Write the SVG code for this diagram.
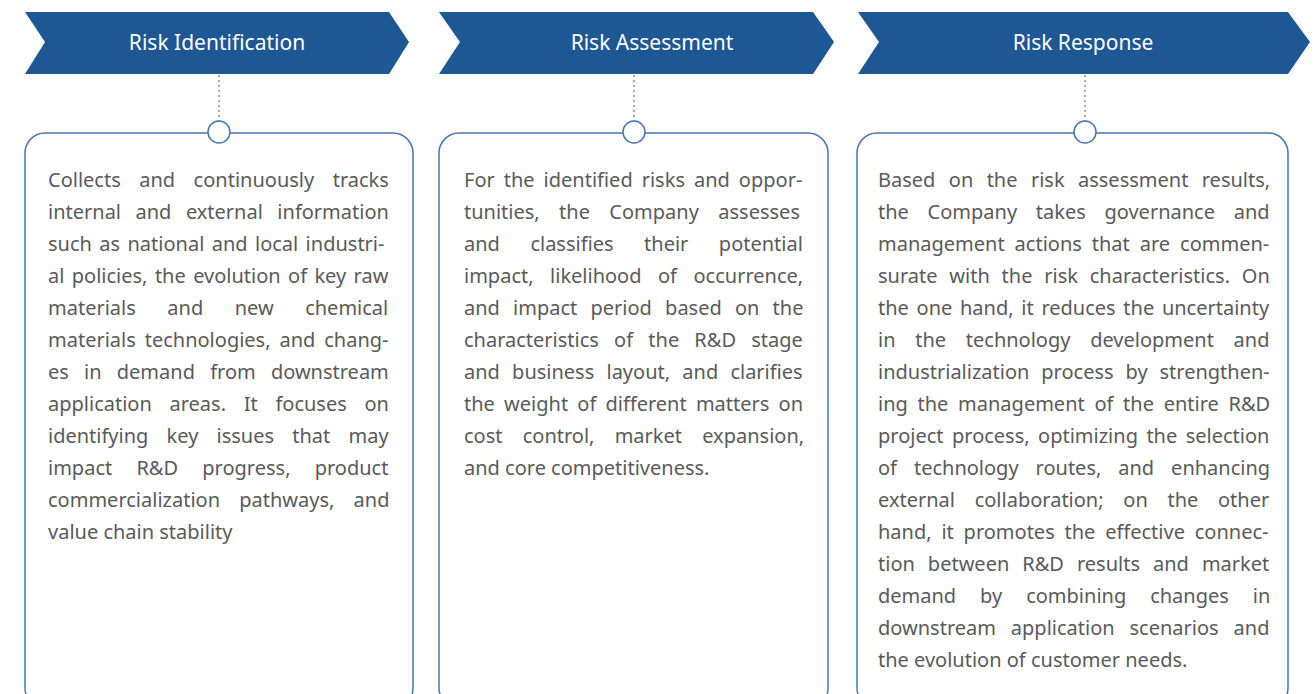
<svg xmlns="http://www.w3.org/2000/svg" width="1315" height="694" viewBox="0 0 1315 694">
<style>
.banner{fill:#1d5794}
.title{font-family:"Noto Sans",sans-serif;font-size:21px;fill:#ffffff;text-anchor:middle}
.box{fill:#ffffff;stroke:#4a76ae;stroke-width:1.5}
.dot{fill:#ffffff;stroke:#4a76ae;stroke-width:1.5}
.conn{stroke:#6e92c2;stroke-width:1.5;stroke-dasharray:2 3;fill:none}
.body{font-family:"Noto Sans",sans-serif;font-size:20px;fill:#5a5a5a}
</style>
<rect width="1315" height="694" fill="#ffffff"/>
<g id="connectors">
<line class="conn" x1="219" y1="75" x2="219" y2="121"/>
<line class="conn" x1="634" y1="75" x2="634" y2="121"/>
<line class="conn" x1="1085" y1="75" x2="1085" y2="121"/>
</g>
<g id="node-risk-identification">
<polygon class="banner" points="25,12 389,12 409,42 389,74 25,74 45,42"/>
<text class="title" x="217" y="50">Risk Identification</text>
<rect class="box" x="25" y="133" width="388" height="575" rx="20"/>
<circle class="dot" cx="219" cy="132" r="11"/>
<text class="body">
<tspan x="48" y="187" word-spacing="13.3">Collects and continuously tracks</tspan>
<tspan x="48" y="219" word-spacing="9.3">internal and external information</tspan>
<tspan x="48" y="251" word-spacing="2.2">such as national and local industri-</tspan>
<tspan x="48" y="283" word-spacing="2.2">al policies, the evolution of key raw</tspan>
<tspan x="48" y="315" word-spacing="26.3">materials and new chemical</tspan>
<tspan x="48" y="347" word-spacing="3.7">materials technologies, and chang-</tspan>
<tspan x="48" y="379" word-spacing="10">es in demand from downstream</tspan>
<tspan x="48" y="411" word-spacing="12.5">application areas. It focuses on</tspan>
<tspan x="48" y="443" word-spacing="13">identifying key issues that may</tspan>
<tspan x="48" y="475" word-spacing="19">impact R&amp;D progress, product</tspan>
<tspan x="48" y="507" word-spacing="14">commercialization pathways, and</tspan>
<tspan x="48" y="539" word-spacing="0">value chain stability</tspan>
</text>
</g>
<g id="node-risk-assessment">
<polygon class="banner" points="439,12 813,12 834,42 813,74 439,74 460,42"/>
<text class="title" x="652" y="50">Risk Assessment</text>
<rect class="box" x="439" y="133" width="389" height="575" rx="20"/>
<circle class="dot" cx="634" cy="132" r="11"/>
<text class="body">
<tspan x="464" y="187" word-spacing="3.8">For the identified risks and oppor-</tspan>
<tspan x="464" y="219" word-spacing="14.2">tunities, the Company assesses</tspan>
<tspan x="464" y="251" word-spacing="25.3">and classifies their potential</tspan>
<tspan x="464" y="283" word-spacing="11.3">impact, likelihood of occurrence,</tspan>
<tspan x="464" y="315" word-spacing="8">and impact period based on the</tspan>
<tspan x="464" y="347" word-spacing="10">characteristics of the R&amp;D stage</tspan>
<tspan x="464" y="379" word-spacing="7">and business layout, and clarifies</tspan>
<tspan x="464" y="411" word-spacing="4">the weight of different matters on</tspan>
<tspan x="464" y="443" word-spacing="15">cost control, market expansion,</tspan>
<tspan x="464" y="475" word-spacing="0">and core competitiveness.</tspan>
</text>
</g>
<g id="node-risk-response">
<polygon class="banner" points="858,12 1288,12 1310,42 1288,74 858,74 879,42"/>
<text class="title" x="1083" y="50">Risk Response</text>
<rect class="box" x="857" y="133" width="431" height="575" rx="20"/>
<circle class="dot" cx="1085" cy="132" r="11"/>
<text class="body">
<tspan x="878" y="187" word-spacing="8.2">Based on the risk assessment results,</tspan>
<tspan x="878" y="219" word-spacing="13.5">the Company takes governance and</tspan>
<tspan x="878" y="251" word-spacing="4.75">management actions that are commen-</tspan>
<tspan x="878" y="283" word-spacing="6.6">surate with the risk characteristics. On</tspan>
<tspan x="878" y="315" word-spacing="2.5">the one hand, it reduces the uncertainty</tspan>
<tspan x="878" y="347" word-spacing="14.5">in the technology development and</tspan>
<tspan x="878" y="379" word-spacing="6.7">industrialization process by strengthen-</tspan>
<tspan x="878" y="411" word-spacing="4.5">ing the management of the entire R&amp;D</tspan>
<tspan x="878" y="443" word-spacing="3.25">project process, optimizing the selection</tspan>
<tspan x="878" y="475" word-spacing="11.75">of technology routes, and enhancing</tspan>
<tspan x="878" y="507" word-spacing="14.5">external collaboration; on the other</tspan>
<tspan x="878" y="539" word-spacing="4.6">hand, it promotes the effective connec-</tspan>
<tspan x="878" y="571" word-spacing="7.8">tion between R&amp;D results and market</tspan>
<tspan x="878" y="603" word-spacing="18.75">demand by combining changes in</tspan>
<tspan x="878" y="635" word-spacing="9.7">downstream application scenarios and</tspan>
<tspan x="878" y="667" word-spacing="0">the evolution of customer needs.</tspan>
</text>
</g>
</svg>
